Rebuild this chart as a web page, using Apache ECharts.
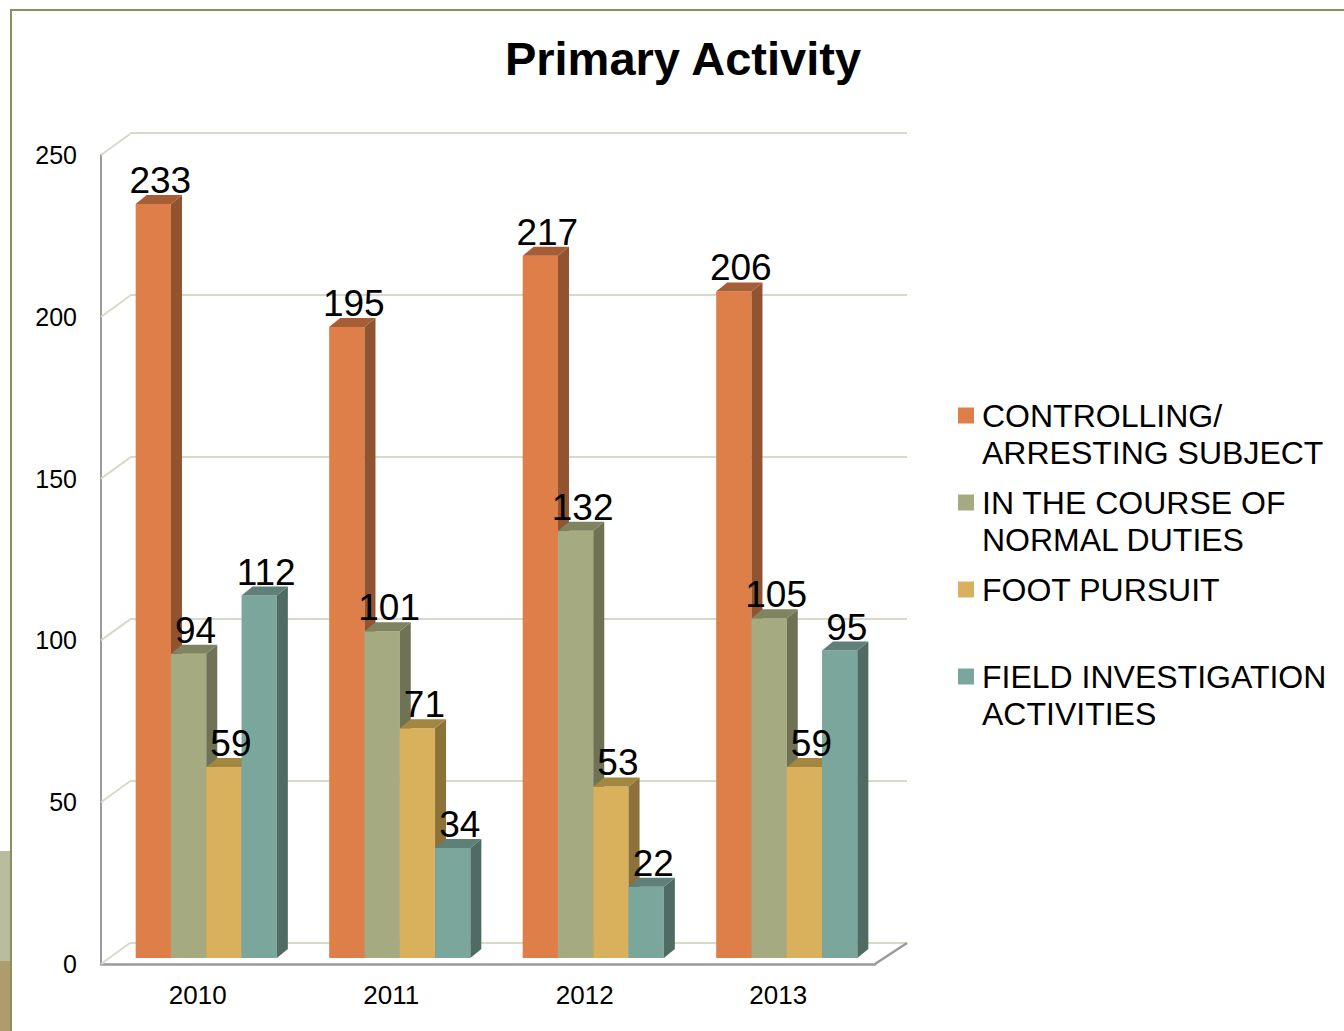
<!DOCTYPE html>
<html>
<head>
<meta charset="utf-8">
<title>Primary Activity</title>
<script src="https://cdn.jsdelivr.net/npm/echarts@6/dist/echarts.min.js"></script>
<style>
html, body { margin: 0; padding: 0; background: #fff; }
#primary_activity { width: 1344px; height: 1031px; }
</style>
</head>
<body>
<div id="primary_activity"></div>
<script>
// Chart data
var years = ['2010', '2011', '2012', '2013'];
var seriesNames = ['CONTROLLING/ ARRESTING SUBJECT', 'IN THE COURSE OF NORMAL DUTIES', 'FOOT PURSUIT', 'FIELD INVESTIGATION ACTIVITIES'];
var legendLabels = ['CONTROLLING/\nARRESTING SUBJECT', 'IN THE COURSE OF\nNORMAL DUTIES', 'FOOT PURSUIT\n ', 'FIELD INVESTIGATION\nACTIVITIES'];
var controlling = [233, 195, 217, 206];
var normalDuties = [94, 101, 132, 105];
var footPursuit = [59, 71, 53, 59];
var fieldInvestigation = [112, 34, 22, 95];
var valueTicks = [0, 50, 100, 150, 200, 250];

var EchartsPrimaryActivity = function() {

    // Bar colours: front, side, top
    var frontColors = ['#DE7F49', '#A5AA80', '#D9B15C', '#7BA69C'];
    var sideColors = ['#925330', '#6F7254', '#8C7139', '#4F6B64'];
    var topColors = ['#A65E37', '#7F835F', '#A3863F', '#5F8078'];

    var depthX = 11, depthY = -9;

    // 3D bar for one series
    var renderBar = function(idx) {
        return function(params, api) {
            var cat = api.value(0);
            var val = api.value(1);
            var base = api.coord([cat, 0]);
            var tip = api.coord([cat, val]);
            var band = api.size([1, 0])[0];
            var bw = band * 0.1824;
            var x0 = base[0] + band * 0.044 - 2 * bw + idx * bw;
            var yb = base[1] - 6;
            var yt = tip[1] - 6;
            return {
                type: 'group',
                children: [{
                    type: 'rect',
                    shape: {x: x0, y: yt, width: bw, height: yb - yt},
                    style: {fill: frontColors[idx]}
                }, {
                    type: 'polygon',
                    shape: {points: [[x0 + bw, yt], [x0 + bw + depthX, yt + depthY], [x0 + bw + depthX, yb + depthY], [x0 + bw, yb]]},
                    style: {fill: sideColors[idx]}
                }, {
                    type: 'polygon',
                    shape: {points: [[x0, yt], [x0 + depthX, yt + depthY], [x0 + bw + depthX, yt + depthY], [x0 + bw, yt]]},
                    style: {fill: topColors[idx]}
                }, {
                    type: 'text',
                    z2: 100,
                    style: {
                        x: x0 + bw / 2 + 7,
                        y: yt - 5,
                        text: String(val),
                        fill: '#000',
                        font: '37px "Liberation Sans", Arial, sans-serif',
                        align: 'center',
                        verticalAlign: 'bottom'
                    }
                }]
            };
        };
    };

    // Left wall and floor edges
    var renderWall = function(params, api) {
        var v = api.value(1);
        var p = api.coord([0, v]);
        var x = params.coordSys.x;
        var children = [{
            type: 'line',
            shape: {x1: x, y1: p[1], x2: x + 29, y2: p[1] - 21},
            style: {stroke: '#d8d9c9', lineWidth: 2}
        }];
        if (v === 0) {
            var xr = x + params.coordSys.width;
            children.push({
                type: 'line',
                shape: {x1: xr, y1: p[1], x2: xr + 32, y2: p[1] - 21},
                style: {stroke: '#9a9a9a', lineWidth: 2.5}
            });
        }
        return {type: 'group', children: children};
    };

    var _primaryActivityChart = function() {
        if (typeof echarts == 'undefined') {
            console.warn('Warning - echarts.min.js is not loaded.');
            return;
        }

        // Define element
        var chart_element = document.getElementById('primary_activity');
        if (!chart_element) return;

        // Initialize chart
        var chart = echarts.init(chart_element, null, {renderer: 'svg'});

        var seriesValues = [controlling, normalDuties, footPursuit, fieldInvestigation];
        var barSeries = seriesValues.map(function(values, idx) {
            return {
                name: seriesNames[idx],
                type: 'custom',
                xAxisIndex: 0,
                yAxisIndex: 0,
                z: 3,
                itemStyle: {color: frontColors[idx]},
                renderItem: renderBar(idx),
                encode: {x: 0, y: 1},
                data: values.map(function(v, i) { return [i, v]; })
            };
        });

        chart.setOption({
            animation: false,
            color: frontColors,

            textStyle: {
                fontFamily: '"Liberation Sans", Arial, sans-serif'
            },

            // Decorative slide frame
            graphic: [
                {type: 'rect', left: 0, top: 851, shape: {width: 10, height: 110}, style: {fill: '#B9BC9D'}},
                {type: 'rect', left: 0, top: 961, shape: {width: 10, height: 70}, style: {fill: '#AE9C6F'}},
                {type: 'line', shape: {x1: 10, y1: 10, x2: 1344, y2: 10}, style: {stroke: '#8B8F5E', lineWidth: 2}},
                {type: 'line', shape: {x1: 11, y1: 10, x2: 11, y2: 1031}, style: {stroke: '#8B8F5E', lineWidth: 2}}
            ],

            // Add title
            title: {
                text: 'Primary Activity',
                left: 683,
                textAlign: 'center',
                top: 35,
                padding: 0,
                textStyle: {
                    fontSize: 47,
                    fontWeight: 'bold',
                    color: '#000'
                }
            },

            // Add legend (blank first line keeps the marker on the first text line)
            legend: {
                orient: 'vertical',
                left: 958,
                top: 360,
                padding: 0,
                itemGap: -24,
                itemWidth: 16,
                itemHeight: 16,
                icon: 'rect',
                data: seriesNames,
                selectedMode: false,
                formatter: function(name) {
                    return ' \n' + legendLabels[seriesNames.indexOf(name)];
                },
                textStyle: {
                    fontSize: 32,
                    lineHeight: 37,
                    color: '#000',
                    padding: [0, 0, 0, 3]
                }
            },

            grid: [
                {left: 101, top: 155, width: 774, height: 809},
                {left: 130, top: 133, width: 777, height: 810}
            ],

            xAxis: [{
                type: 'category',
                gridIndex: 0,
                data: years,
                axisLine: {lineStyle: {color: '#9a9a9a', width: 2.5}},
                axisTick: {show: false},
                axisLabel: {fontSize: 26, color: '#000', margin: 18}
            }, {
                type: 'category',
                gridIndex: 1,
                data: years,
                show: false
            }],

            yAxis: [{
                type: 'value',
                gridIndex: 0,
                min: 0,
                max: 250,
                interval: 50,
                axisLine: {show: true, lineStyle: {color: '#9a9a9a', width: 2}},
                axisTick: {show: false},
                splitLine: {show: false},
                axisLabel: {fontSize: 25, color: '#000', margin: 24}
            }, {
                type: 'value',
                gridIndex: 1,
                min: 0,
                max: 250,
                interval: 50,
                axisLine: {show: false},
                axisTick: {show: false},
                axisLabel: {show: false},
                splitLine: {lineStyle: {color: '#d8d9c9', width: 2}}
            }],

            series: [{
                type: 'custom',
                xAxisIndex: 0,
                yAxisIndex: 0,
                z: 1,
                silent: true,
                renderItem: renderWall,
                encode: {x: 0, y: 1},
                data: valueTicks.map(function(v) { return [0, v]; })
            }].concat(barSeries)
        });

        // Resize chart
        window.addEventListener('resize', function() {
            chart.resize();
        });
    };

    return {
        init: function() {
            _primaryActivityChart();
        }
    };
}();

// Initialize module
document.addEventListener('DOMContentLoaded', function() {
    EchartsPrimaryActivity.init();
});
</script>
</body>
</html>
